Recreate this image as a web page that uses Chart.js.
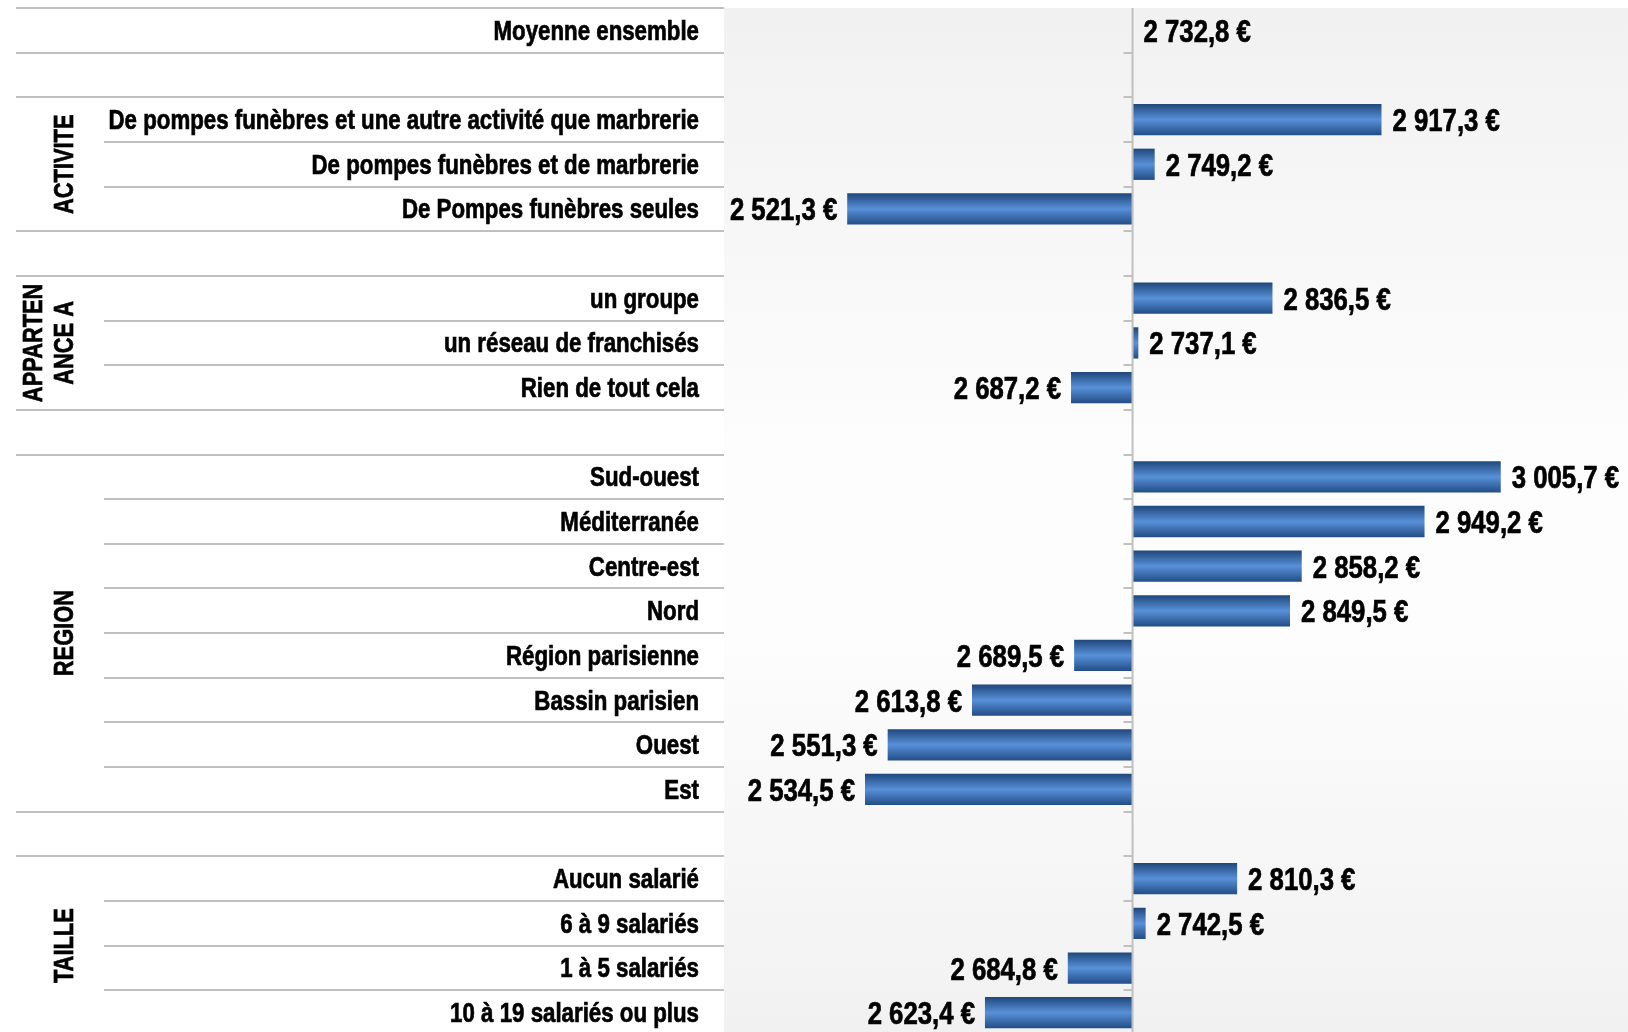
<!DOCTYPE html>
<html>
<head>
<meta charset="utf-8">
<title>Moyenne par catégorie</title>
<script src="https://cdn.jsdelivr.net/npm/chart.js@4"></script>
<style>
  html, body { margin: 0; padding: 0; background: #ffffff; overflow: hidden; }
  #wrap { width: 1628px; height: 1036px; }
</style>
</head>
<body>
<div id="wrap"><canvas id="myChart" width="1628" height="1036"></canvas></div>
<script>
'use strict'

// rows of the chart, top to bottom ('' = empty spacer row)
const categories = [
  'Moyenne ensemble',
  '',
  'De pompes funèbres et une autre activité que marbrerie',
  'De pompes funèbres et de marbrerie',
  'De Pompes funèbres seules',
  '',
  'un groupe',
  'un réseau de franchisés',
  'Rien de tout cela',
  '',
  'Sud-ouest',
  'Méditerranée',
  'Centre-est',
  'Nord',
  'Région parisienne',
  'Bassin parisien',
  'Ouest',
  'Est',
  '',
  'Aucun salarié',
  '6 à 9 salariés',
  '1 à 5 salariés',
  '10 à 19 salariés ou plus'
];

const values = [
  2732.8, null,
  2917.3, 2749.2, 2521.3, null,
  2836.5, 2737.1, 2687.2, null,
  3005.7, 2949.2, 2858.2, 2849.5, 2689.5, 2613.8, 2551.3, 2534.5, null,
  2810.3, 2742.5, 2684.8, 2623.4
];

const average = 2732.8;

// group titles and the rows they cover
const groupNames = [['ACTIVITE'], ['APPARTEN', 'ANCE A'], ['REGION'], ['TAILLE']];
const groupFirst = [2, 6, 10, 19];
const groupLast = [4, 8, 17, 22];

const xMin = 2430;
const xMax = 3100;

// no narrow font installed: Liberation Sans squeezed sideways instead
const baseFont = '"Liberation Sans", Arial, sans-serif';
const lineColor = '#c0c0c0';

function groupOf(i){
  for (let g = 0; g < groupFirst.length; g++){
    if (i >= groupFirst[g] && i <= groupLast[g]) return g;
  }
  return -1;
}

function euro(v){
  let parts = v.toFixed(1).split('.');
  let whole = parts[0].replace(/\B(?=(\d{3})+(?!\d))/g, ' ');
  return whole + ',' + parts[1] + ' €';
}

function rowHeight(chart){
  const y = chart.scales.y;
  return y.getPixelForValue(1) - y.getPixelForValue(0);
}

function narrowText(ctx, text, x, y, squeeze, angle){
  ctx.save();
  ctx.translate(x, y);
  if (angle) ctx.rotate(angle);
  ctx.scale(squeeze, 1);
  ctx.lineWidth = 0.7;
  ctx.strokeStyle = '#000000';
  ctx.fillText(text, 0, 0);
  ctx.strokeText(text, 0, 0);
  ctx.restore();
}

// vertical light-dark-light gradient on each bar
function barGradient(context){
  const chart = context.chart;
  if (!chart.chartArea) return '#4f81bd';
  const y = chart.scales.y.getPixelForValue(context.dataIndex);
  const h = rowHeight(chart) * 0.35;
  const g = chart.ctx.createLinearGradient(0, y - h, 0, y + h);
  g.addColorStop(0, '#1f477b');
  g.addColorStop(0.5, '#5890d8');
  g.addColorStop(1, '#224d86');
  return g;
}

const backgroundPlugin = {
  id: 'plotBackground',
  beforeDraw(chart){
    const area = chart.chartArea;
    const ctx = chart.ctx;
    const g = ctx.createLinearGradient(0, area.top, 0, area.bottom);
    g.addColorStop(0, '#f1f1f1');
    g.addColorStop(0.44, '#fdfdfd');
    g.addColorStop(0.6, '#fdfdfd');
    g.addColorStop(1, '#f1f1f1');
    ctx.save();
    ctx.fillStyle = g;
    ctx.fillRect(area.left, area.top, area.right - area.left, area.bottom - area.top);
    ctx.restore();
  }
};

// table on the left: row lines, category names, group titles; axis at the average
const tablePlugin = {
  id: 'table',
  afterDraw(chart){
    const ctx = chart.ctx;
    const area = chart.chartArea;
    const yScale = chart.scales.y;
    const xScale = chart.scales.x;
    const rh = rowHeight(chart);
    const axisX = xScale.getPixelForValue(average);

    ctx.save();
    ctx.strokeStyle = lineColor;
    ctx.lineWidth = 2;
    for (let i = -1; i < categories.length; i++){
      const y = Math.round(yScale.getPixelForValue(i) + rh / 2);
      const inner = groupOf(i) !== -1 && groupOf(i) === groupOf(i + 1);
      ctx.beginPath();
      ctx.moveTo(inner ? 104 : 16, y);
      ctx.lineTo(area.left, y);
      ctx.stroke();
      if (i >= 0){
        ctx.beginPath();
        ctx.moveTo(axisX - 9, y);
        ctx.lineTo(axisX, y);
        ctx.stroke();
      }
    }
    ctx.beginPath();
    ctx.moveTo(axisX, area.top);
    ctx.lineTo(axisX, area.bottom);
    ctx.stroke();

    ctx.fillStyle = '#000000';
    ctx.textBaseline = 'middle';

    ctx.font = 'bold 27px ' + baseFont;
    ctx.textAlign = 'right';
    categories.forEach(function(name, i){
      if (name === '') return;
      narrowText(ctx, name, 699, yScale.getPixelForValue(i) + 2, 0.825);
    });

    ctx.font = 'bold 28px ' + baseFont;
    ctx.textAlign = 'center';
    for (let g = 0; g < groupNames.length; g++){
      const top = yScale.getPixelForValue(groupFirst[g]);
      const bottom = yScale.getPixelForValue(groupLast[g]);
      const lines = groupNames[g];
      const cy = (top + bottom) / 2;
      for (let k = 0; k < lines.length; k++){
        const cx = 65 - (lines.length - 1 - k) * 31;
        narrowText(ctx, lines[k], cx, cy, 0.78, -Math.PI / 2);
      }
    }
    ctx.restore();
  }
};

// value labels at the end of each bar
const valueLabels = {
  id: 'valueLabels',
  afterDatasetsDraw(chart){
    const ctx = chart.ctx;
    const meta = chart.getDatasetMeta(0);
    ctx.save();
    ctx.fillStyle = '#000000';
    ctx.font = 'bold 31px ' + baseFont;
    ctx.textBaseline = 'middle';
    meta.data.forEach(function(bar, i){
      const v = values[i];
      if (v === null) return;
      if (v >= average){
        ctx.textAlign = 'left';
        narrowText(ctx, euro(v), bar.x + 11, bar.y + 3, 0.83);
      } else {
        ctx.textAlign = 'right';
        narrowText(ctx, euro(v), bar.x - 10, bar.y + 3, 0.83);
      }
    });
    ctx.restore();
  }
};

const ctx = document.getElementById('myChart').getContext('2d');

const myChart = new Chart(ctx, {
  type: 'bar',
  data: {
    labels: categories,
    datasets: [{
      data: values,
      base: average,
      backgroundColor: barGradient,
      borderWidth: 0,
      barPercentage: 0.7,
      categoryPercentage: 1
    }]
  },
  options: {
    indexAxis: 'y',
    responsive: false,
    devicePixelRatio: 1,
    animation: false,
    layout: { padding: { top: 8, bottom: 1, left: 724, right: 0 } },
    plugins: {
      legend: { display: false },
      tooltip: { enabled: false }
    },
    scales: {
      x: {
        display: false,
        min: xMin,
        max: xMax
      },
      y: {
        display: false
      }
    }
  },
  plugins: [backgroundPlugin, tablePlugin, valueLabels]
});
</script>
</body>
</html>
